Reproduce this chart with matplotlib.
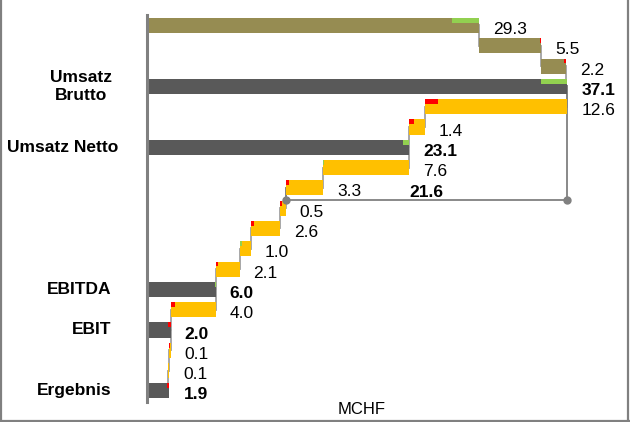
import matplotlib
matplotlib.use("Agg")
import matplotlib.pyplot as plt
from matplotlib.lines import Line2D

plt.rcParams['font.family'] = ['Liberation Sans', 'DejaVu Sans']

# chart data
categories = ["", "", "", "Umsatz\nBrutto", "", "", "Umsatz Netto", "", "", "",
              "", "", "", "EBITDA", "", "EBIT", "", "", "Ergebnis"]
values = [29.3, 5.5, 2.2, 37.1, -12.6, -1.4, 23.1, -7.6, -3.3, -0.5,
          -2.6, -1.0, -2.1, 6.0, -4.0, 2.0, -0.1, -0.1, 1.9]
is_total = [False, False, False, True, False, False, True, False, False, False,
            False, False, False, True, False, True, False, False, True]
# small change markers on top of each bar (+ green, - red)
deltas = [2.4, -0.1, -0.2, 2.3, -1.2, -0.4, 0.5, 0.1, -0.3, -0.15,
          -0.3, 0.2, -0.2, 0.1, -0.35, -0.2, -0.05, 0.0, -0.2]
bracket_from, bracket_to = 3, 8   # Umsatz Brutto -> after 7.6 step
bracket_label = "21.6"
unit = "MCHF"

# colours
c_total = "#595959"
c_up = "#968C52"
c_down = "#FFC000"
c_green = "#92D050"
c_red = "#FF0000"
c_line = "#A0A0A0"

fig = plt.figure(figsize=(6.3, 4.22), dpi=100)
ax = fig.add_axes([0, 0, 1, 1])
px = 11.3    # pixels per unit
py = 20.3    # pixels per row
ax.set_xlim(-148 / px, (630 - 148) / px)
ax.set_ylim((422 - 25.5) / py, -25.5 / py)
ax.axis("off")

h = 0.74
fs = 12.5
level = 0.0
starts, ends = [], []
for i, v in enumerate(values):
    if is_total[i]:
        s, e = 0.0, v
    else:
        s, e = level, level + v
    starts.append(s)
    ends.append(e)
    level = e

# connectors
for i in range(len(values) - 1):
    ax.plot([ends[i], ends[i]], [i, i + 1], color=c_line, lw=1.3, zorder=1)

for i, v in enumerate(values):
    s, e = starts[i], ends[i]
    if is_total[i]:
        col = c_total
    elif v >= 0:
        col = c_up
    else:
        col = c_down
    left = min(s, e)
    ax.barh(i, abs(e - s), left=left, height=h, color=col, zorder=2)

    # change marker
    d = deltas[i]
    if d != 0:
        mcol = c_green if d > 0 else c_red
        if is_total[i] or v >= 0:
            ml = e - abs(d)
        else:
            ml = e
        ax.barh(i - h / 2 + 0.12, abs(d), left=ml, height=0.24,
                color=mcol, zorder=3)

    # value label
    ax.text(max(s, e) + 1.24, i + 0.2, f"{abs(v):.1f}", fontsize=fs,
            fontweight="bold" if is_total[i] else "normal",
            ha="left", va="center", zorder=4)

    # category label
    if categories[i]:
        xr = -3.2 if categories[i] != "Umsatz Netto" else -2.65
        ax.text(xr, i, categories[i], fontsize=fs, fontweight="bold",
                ha="right", va="center", multialignment="center")

# bracket
yb = 8.6
xa = ends[bracket_from]
xb = ends[bracket_to]
ax.plot([xa, xa, xb, xb], [bracket_from, yb, yb, bracket_to],
        color="#808080", lw=1.3, zorder=1)
ax.plot([xa, xb], [yb, yb], "o", color="#808080", ms=5, zorder=4)
ax.text((xa + xb) / 2, yb - 0.35, bracket_label, fontsize=fs,
        fontweight="bold", ha="center", va="center")

# left axis line
ax.plot([-0.05, -0.05], [-0.52, 18.55], color="#808080", lw=2.2, zorder=5)

ax.text(18.94, 18.94, unit, fontsize=12, ha="center", va="center")

# frame around figure (left, right, bottom)
W, H = 630, 422
for xs, ys in [([0.8, 0.8], [1, H]), ([627.5, 627.5], [1, H]), ([0, W], [1.2, 1.2])]:
    fig.add_artist(Line2D([x / W for x in xs], [y / H for y in ys],
                          color="#808080", lw=1.6, transform=fig.transFigure))

fig.savefig("out.png", dpi=100)
